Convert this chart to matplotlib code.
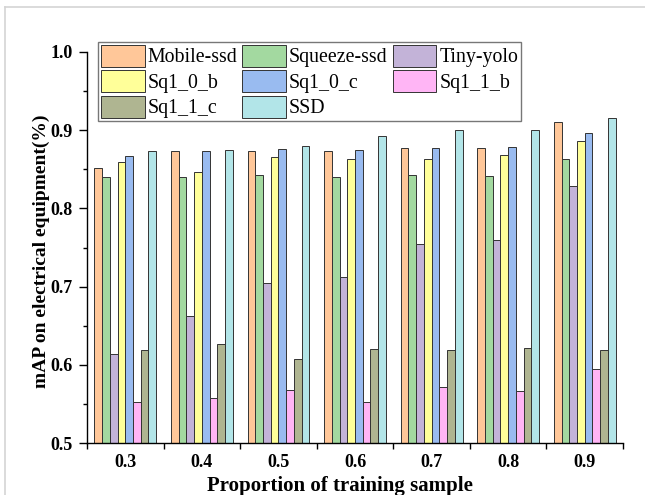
import numpy as np
import matplotlib
matplotlib.use('Agg')
import matplotlib.pyplot as plt
from matplotlib.ticker import MultipleLocator
from matplotlib.lines import Line2D

# Data
proportions = [0.3, 0.4, 0.5, 0.6, 0.7, 0.8, 0.9]
series_names = ['Mobile-ssd', 'Squeeze-ssd', 'Tiny-yolo', 'Sq1_0_b',
                'Sq1_0_c', 'Sq1_1_b', 'Sq1_1_c', 'SSD']
mobile_ssd = [0.852, 0.873, 0.874, 0.873, 0.877, 0.877, 0.911]
squeeze_ssd = [0.840, 0.840, 0.843, 0.840, 0.843, 0.842, 0.863]
tiny_yolo = [0.614, 0.662, 0.705, 0.712, 0.754, 0.760, 0.829]
sq1_0_b = [0.859, 0.846, 0.866, 0.863, 0.863, 0.868, 0.886]
sq1_0_c = [0.867, 0.874, 0.876, 0.875, 0.877, 0.879, 0.896]
sq1_1_b = [0.553, 0.558, 0.568, 0.553, 0.571, 0.567, 0.595]
sq1_1_c = [0.619, 0.626, 0.607, 0.620, 0.619, 0.622, 0.619]
ssd = [0.874, 0.875, 0.880, 0.893, 0.900, 0.900, 0.916]
all_series = [mobile_ssd, squeeze_ssd, tiny_yolo, sq1_0_b,
              sq1_0_c, sq1_1_b, sq1_1_c, ssd]
colors = ['#FFC799', '#A3D9A0', '#C3B3D8', '#FFFF99',
          '#99BBF0', '#FFB5F5', '#AFB591', '#B2E5E8']

serif = ['Liberation Serif', 'DejaVu Serif']
plt.rcParams['font.family'] = serif

fig = plt.figure(figsize=(6.45, 4.95), dpi=100)
ax = fig.add_axes([0.1349, 0.105, 0.831, 0.790])

# light gray frame from the screenshot
fig.add_artist(Line2D([5 / 645, 1], [1 - 7 / 495, 1 - 7 / 495], color='#d4d4d4', lw=1.2))
fig.add_artist(Line2D([5 / 645, 5 / 645], [0, 1 - 7 / 495], color='#d4d4d4', lw=1.2))

bar_w = 0.0101
x = np.array(proportions)
n = len(all_series)
handles = []
for i, (vals, name, c) in enumerate(zip(all_series, series_names, colors)):
    offs = (i - (n - 1) / 2) * bar_w
    b = ax.bar(x + offs, np.array(vals) - 0.5, bar_w, bottom=0.5, color=c,
               edgecolor='#333333', linewidth=0.7, label=name)
    handles.append(b)

ax.set_xlim(0.25, 0.95)
ax.set_ylim(0.5, 1.0)
ax.set_xticks(proportions)
ax.set_xticklabels([f'{p:.1f}' for p in proportions])
ax.xaxis.set_minor_locator(MultipleLocator(0.1, offset=0.05))
ax.yaxis.set_major_locator(MultipleLocator(0.1))
ax.yaxis.set_minor_locator(MultipleLocator(0.05))
ax.tick_params(axis='x', which='major', length=0, pad=8, labelsize=13)
ax.tick_params(axis='x', which='minor', length=4, width=1)
ax.tick_params(axis='y', which='major', length=6, width=1, labelsize=13, pad=4)
ax.tick_params(axis='y', which='minor', length=3, width=1)
for lbl in ax.get_xticklabels() + ax.get_yticklabels():
    lbl.set_fontweight('bold')

ax.spines['top'].set_visible(False)
ax.spines['right'].set_visible(False)
ax.spines['left'].set_linewidth(1.0)
ax.spines['bottom'].set_linewidth(1.0)

ax.set_xlabel('Proportion of training sample', fontsize=15, fontweight='bold')
ax.xaxis.set_label_coords(0.472, -0.085)
ax.set_ylabel('mAP on electrical equipment(%)', fontsize=14, fontweight='bold')
ax.yaxis.set_label_coords(-0.069, 0.49)

# legend filled row by row, as in the reference
order = [0, 3, 6, 1, 4, 7, 2, 5]
leg = ax.legend([handles[k] for k in order], [series_names[k] for k in order],
                ncol=3, loc='upper left', bbox_to_anchor=(98 / 645, 1 - 42 / 495),
                bbox_transform=fig.transFigure, fontsize=14.3, frameon=True,
                fancybox=False, edgecolor='#555555', handlelength=2.2,
                handleheight=1.3, handletextpad=0.15, columnspacing=0.25,
                labelspacing=0.15, borderpad=0.15, borderaxespad=0)
leg.get_frame().set_linewidth(1.0)

fig.savefig('out.png', dpi=100)
